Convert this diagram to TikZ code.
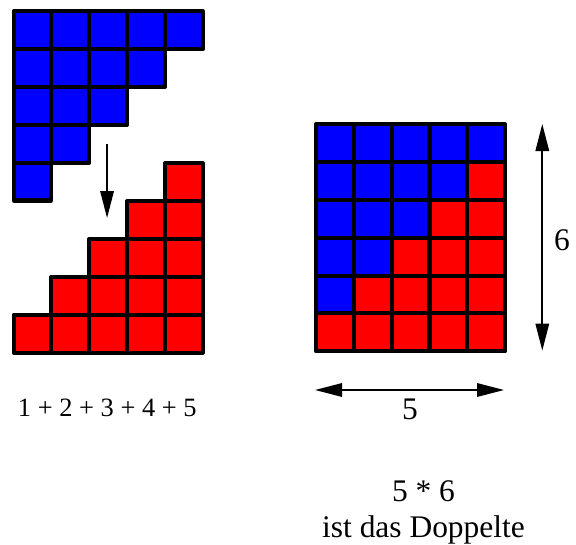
\documentclass[tikz,border=0pt]{standalone}
\usepackage{fontspec}
\setmainfont{Liberation Serif}
\usetikzlibrary{arrows.meta}

\tikzset{
  kaestchen/.style={line width=3pt, line join=round, draw=black},
  pfeil/.style={line width=1.2pt, arrows={-Triangle[length=20pt,width=10pt]}},
  doppelpfeil/.style={line width=1.2pt, arrows={Triangle[length=20pt,width=10pt]-Triangle[length=20pt,width=10pt]}},
  gross/.style={font=\rmfamily\fontsize{23.3}{28}\selectfont, anchor=base, inner sep=0pt},
  klein/.style={font=\rmfamily\fontsize{19.6}{23}\selectfont, anchor=base, inner sep=0pt},
}

\begin{document}
\begin{tikzpicture}[x=0.985cm, y=0.985cm]
\useasboundingbox (0,0) rectangle (15.226,-14.381);

% =====================
% TREPPE BLAU
% =====================
\begin{scope}[shift={(0.36,-0.30)}]
\foreach \r in {0,...,4}{
  \pgfmathtruncatemacro\bis{4-\r}
  \foreach \c in {0,...,\bis}
    \filldraw[kaestchen, fill=blue] (\c,-\r) rectangle ++(1,-1);
}
\end{scope}

% =====================
% TREPPE ROT
% =====================
\begin{scope}[shift={(0.36,-4.32)}]
\foreach \r in {0,...,4}{
  \pgfmathtruncatemacro\ab{4-\r}
  \foreach \c in {\ab,...,4}
    \filldraw[kaestchen, fill=red] (\c,-\r) rectangle ++(1,-1);
}
\end{scope}

% =====================
% RECHTECK 5 x 6
% =====================
\begin{scope}[shift={(8.353,-3.286)}]
\foreach \r in {0,...,5}{
  \foreach \c in {0,...,4}{
    \ifnum\numexpr\c+\r\relax<5 \def\farbe{blue}\else\def\farbe{red}\fi
    \filldraw[kaestchen, fill=\farbe] (\c,-\r) rectangle ++(1,-1);
  }
}
\end{scope}

% =====================
% PFEILE
% =====================
\coordinate (pfeilA) at (2.83,-3.806);
\coordinate (pfeilB) at (2.83,-5.763);
\draw[pfeil] (pfeilA) -- (pfeilB);

\coordinate (hoeheO) at (14.335,-3.278);
\coordinate (hoeheU) at (14.335,-9.267);
\draw[doppelpfeil] (hoeheO) -- (hoeheU);

\coordinate (breiteL) at (8.327,-10.309);
\coordinate (breiteR) at (13.323,-10.309);
\draw[doppelpfeil] (breiteL) -- (breiteR);

% =====================
% BESCHRIFTUNG
% =====================
\node[gross] (lsechs) at (14.856,-6.609) {6};
\node[gross] (lfuenf) at (10.838,-11.10) {5};
\node[klein] (summe) at (2.836,-11.015) {1 + 2 + 3 + 4 + 5};
\node[gross] (produkt) at (11.195,-13.26) {5 * 6};
\node[gross] (doppelt) at (11.195,-14.195) {ist das Doppelte};

\end{tikzpicture}
\end{document}
